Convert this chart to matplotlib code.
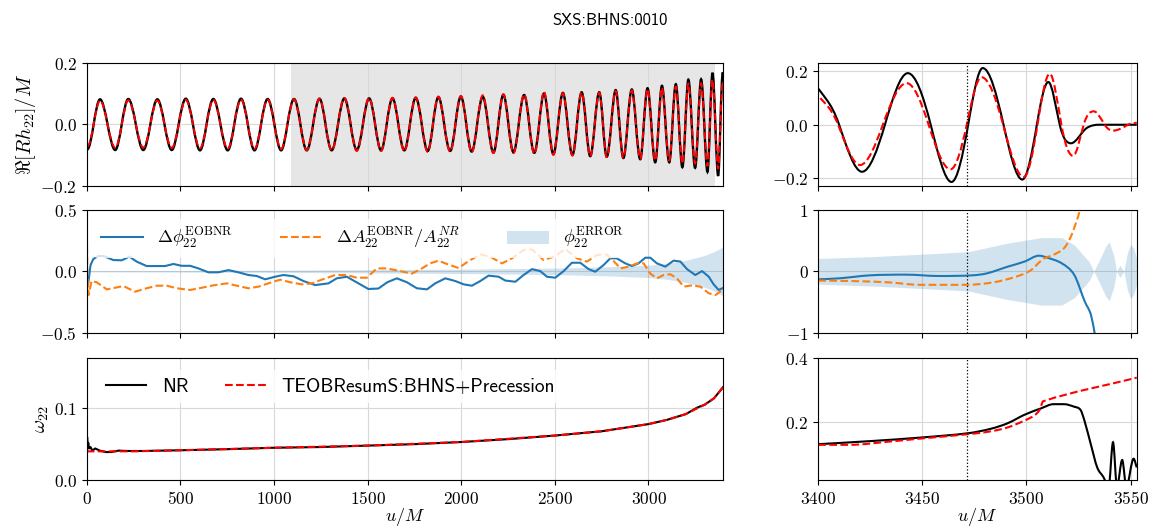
import numpy as np
import matplotlib
matplotlib.use('Agg')
import matplotlib.pyplot as plt
from matplotlib.path import Path
from matplotlib.patches import PathPatch

plt.rcParams['mathtext.fontset'] = 'cm'
plt.rcParams['axes.formatter.use_mathtext'] = True

# ---- top-left: Re[R h22]/M, extrema and zero crossings ----
ext_t = [3, 71, 152, 222, 302, 377, 454, 529, 605, 676, 753, 824, 896, 966, 1038, 1107,
         1175, 1243, 1308, 1376, 1442, 1508, 1572, 1633, 1696, 1757, 1821, 1878, 1941, 1998,
         2056, 2115, 2172, 2225, 2279, 2336, 2390, 2442, 2492, 2543, 2594, 2643, 2689, 2737,
         2777, 2825, 2866, 2911, 2956, 2995, 3036, 3072, 3111, 3146, 3181, 3213, 3249, 3281,
         3315, 3342, 3372, 3397]
zero_t = [37, 111, 187, 262, 340, 415, 491, 567, 640, 714, 788, 860, 931, 1002, 1072, 1141,
          1209, 1275, 1342, 1409, 1475, 1540, 1602, 1664, 1726, 1789, 1849, 1909, 1969, 2027,
          2085, 2143, 2198, 2252, 2307, 2363, 2416, 2467, 2517, 2568, 2618, 2666, 2713, 2757,
          2801, 2845, 2888, 2933, 2975, 3015, 3054, 3091, 3128, 3163, 3197, 3231, 3265, 3298,
          3328, 3357, 3384]
ext_nr = [-0.082, 0.081, -0.084, 0.082, -0.084, 0.081, -0.084, 0.083, -0.085, 0.082, -0.085,
          0.083, -0.085, 0.082, -0.085, 0.082, -0.085, 0.083, -0.085, 0.084, -0.084, 0.084,
          -0.085, 0.084, -0.085, 0.086, -0.087, 0.088, -0.087, 0.090, -0.089, 0.089, -0.092,
          0.096, -0.091, 0.095, -0.093, 0.100, -0.097, 0.102, -0.100, 0.104, -0.104, 0.104,
          -0.106, 0.111, -0.110, 0.113, -0.114, 0.117, -0.124, 0.125, -0.124, 0.130, -0.140,
          0.145, -0.142, 0.146, -0.155, 0.167, -0.168, 0.168]
ext_eob = [-0.072, 0.077, -0.076, 0.078, -0.076, 0.077, -0.077, 0.079, -0.078, 0.079, -0.079,
           0.080, -0.080, 0.080, -0.081, 0.081, -0.084, 0.083, -0.085, 0.085, -0.087, 0.085,
           -0.087, 0.086, -0.088, 0.087, -0.090, 0.090, -0.089, 0.092, -0.091, 0.094, -0.094,
           0.097, -0.094, 0.097, -0.096, 0.106, -0.100, 0.101, -0.102, 0.103, -0.104, 0.103,
           -0.107, 0.108, -0.109, 0.110, -0.112, 0.114, -0.118, 0.119, -0.118, 0.122, -0.128,
           0.132, -0.128, 0.133, -0.136, 0.145, -0.145, 0.140]
h_start = [-0.078, -0.070]   # NR, EOB at u=0
h_end = [0.155, 0.125]       # NR, EOB at u=3400
shade_u = [1091, 3356]

# ---- top-right: merger zoom (extrema and zero crossings) ----
hr_nr_u = [3398, 3410, 3421, 3432, 3443, 3454, 3464, 3472, 3479, 3489, 3498, 3505, 3510.5,
           3516, 3521.4, 3529, 3535, 3553]
hr_nr = [0.158, 0.0, -0.175, 0.0, 0.192, 0.0, -0.213, 0.0, 0.211, 0.0, -0.204, 0.0, 0.159,
         0.0, -0.069, -0.012, 0.0, 0.0]
hr_eob_u = [3397.5, 3409.5, 3420, 3431, 3442.4, 3453, 3463.5, 3471.3, 3478.4, 3488.8, 3498.7,
            3505.3, 3511.2, 3516.8, 3522.4, 3527.5, 3532.3, 3537.6, 3541.6, 3548.8, 3553]
hr_eob = [0.130, 0.0, -0.150, 0.0, 0.155, 0.0, -0.166, 0.0, 0.177, 0.0, -0.195, 0.0, 0.190,
          0.0, -0.116, 0.0, 0.050, 0.0, -0.022, 0.0, 0.008]

# ---- middle-left: phase / amplitude differences ----
phi_u = [0, 8, 20, 35, 62, 89, 142, 187, 228, 267, 320, 374, 418, 463, 507, 552, 596, 650,
         703, 757, 810, 863, 908, 953, 1006, 1050, 1104, 1157, 1220, 1291, 1335, 1389, 1451,
         1504, 1558, 1605, 1656, 1710, 1763, 1817, 1861, 1915, 1968, 2013, 2057, 2102, 2146,
         2200, 2235, 2289, 2333, 2378, 2422, 2458, 2502, 2547, 2591, 2636, 2680, 2716, 2760,
         2796, 2831, 2876, 2912, 2947, 2983, 3010, 3045, 3090, 3134, 3170, 3206, 3250, 3286,
         3322, 3348, 3375, 3400]
phi_v = [-0.15, -0.10, 0.05, 0.10, 0.125, 0.125, 0.092, 0.09, 0.12, 0.079, 0.043, 0.043, 0.043,
         0.06, 0.045, 0.045, 0.024, -0.008, -0.008, 0.01, -0.008, -0.03, -0.038, -0.065, -0.044,
         -0.03, -0.04, -0.079, -0.112, -0.098, -0.057, -0.044, -0.098, -0.144, -0.14, -0.089,
         -0.057, -0.089, -0.138, -0.147, -0.098, -0.057, -0.079, -0.106, -0.117, -0.079, -0.035,
         -0.044, -0.075, -0.085, -0.03, 0.018, 0.002, -0.044, -0.052, 0.002, 0.07, 0.07, 0.018,
         -0.003, 0.051, 0.106, 0.106, 0.065, 0.043, 0.065, 0.111, 0.111, 0.065, 0.038, 0.087,
         0.08, 0.018, -0.03, 0.002, -0.044, -0.106, -0.152, -0.134]
amp_u = [0, 3, 10, 26, 53, 107, 151, 196, 258, 320, 374, 427, 481, 552, 614, 677, 748, 801, 863,
         917, 988, 1033, 1086, 1148, 1202, 1255, 1327, 1389, 1442, 1496, 1549, 1602, 1665, 1736,
         1790, 1834, 1879, 1923, 1986, 2040, 2102, 2155, 2218, 2271, 2333, 2378, 2440, 2494,
         2556, 2618, 2671, 2725, 2778, 2814, 2850, 2894, 2939, 2974, 3010, 3045, 3081, 3117,
         3152, 3188, 3233, 3277, 3322, 3358, 3400]
amp_v = [0.39, 0.0, -0.193, -0.079, -0.089, -0.147, -0.134, -0.12, -0.166, -0.138, -0.117,
         -0.117, -0.138, -0.152, -0.134, -0.114, -0.098, -0.117, -0.138, -0.125, -0.089, -0.068,
         -0.089, -0.106, -0.098, -0.068, -0.03, -0.03, -0.052, -0.052, 0.024, 0.024, 0.005,
         -0.019, 0.024, 0.065, 0.087, 0.06, 0.027, 0.084, 0.138, 0.119, 0.065, 0.106, 0.174,
         0.179, 0.092, 0.119, 0.182, 0.106, 0.079, 0.133, 0.138, 0.084, 0.024, 0.038, 0.065,
         0.065, -0.019, -0.057, -0.03, -0.024, -0.057, -0.125, -0.114, -0.125, -0.179, -0.193,
         -0.147]
err_u = [0, 500, 1000, 1500, 2000, 2500, 2800, 3000, 3100, 3200, 3300, 3350, 3400]
err_v = [0.004, 0.006, 0.009, 0.013, 0.018, 0.026, 0.038, 0.05, 0.065, 0.09, 0.13, 0.16, 0.2]

# ---- middle-right ----
phir_u = [3400, 3410, 3425, 3442, 3458, 3474, 3481, 3491, 3499, 3506, 3510, 3517, 3523, 3528,
          3531, 3533]
phir_v = [-0.13, -0.114, -0.065, -0.054, -0.076, -0.065, -0.033, 0.076, 0.158, 0.255, 0.223,
          0.13, -0.06, -0.49, -0.71, -1.05]
ampr_u = [3400, 3418, 3434, 3449, 3471, 3484, 3495, 3502, 3508, 3513, 3518, 3521, 3524, 3525.7,
          3527]
ampr_v = [-0.15, -0.16, -0.18, -0.22, -0.22, -0.18, -0.087, 0.016, 0.2, 0.27, 0.375, 0.54, 0.81,
          1.0, 1.2]
errr_u = [3400, 3426, 3450, 3472, 3491, 3507, 3517, 3523, 3530, 3532.4, 3536, 3538, 3539.8,
          3542, 3543.3, 3544.9, 3546.8, 3548.5, 3550, 3551.5, 3553]
errr_v = [0.21, 0.24, 0.28, 0.32, 0.46, 0.55, 0.55, 0.43, 0.16, 0.0, 0.25, 0.40, 0.48, 0.25, 0.0,
          0.10, 0.0, 0.30, 0.44, 0.38, 0.20]

# ---- bottom: omega22 ----
om_nr_u = [0, 2, 5, 8, 12, 20, 30, 45, 70, 100, 130, 170, 220, 300, 500, 750, 1000, 1250, 1500,
           1750, 2000, 2250, 2500, 2750, 2900, 3000, 3100, 3200, 3260, 3300, 3350, 3400]
om_nr = [0.000, 0.060, 0.045, 0.052, 0.044, 0.046, 0.041, 0.044, 0.041, 0.039, 0.039, 0.041,
         0.0405, 0.0405, 0.0415, 0.043, 0.045, 0.046, 0.048, 0.050, 0.053, 0.057, 0.062, 0.068,
         0.074, 0.078, 0.084, 0.092, 0.101, 0.105, 0.114, 0.130]
om_eob_u = [0, 250, 500, 1000, 1500, 2000, 2500, 2750, 3000, 3100, 3200, 3260, 3300, 3350, 3400]
om_eob = [0.040, 0.040, 0.0415, 0.045, 0.048, 0.053, 0.062, 0.068, 0.078, 0.084, 0.092, 0.100,
          0.105, 0.114, 0.130]
omr_nr_u = [3400, 3426, 3450, 3472, 3483, 3491, 3499, 3507, 3513, 3518, 3523, 3526, 3528, 3531,
            3534, 3537, 3539.5, 3541.6, 3543.5, 3546, 3548, 3551.5, 3553]
omr_nr = [0.132, 0.142, 0.153, 0.166, 0.18, 0.197, 0.223, 0.243, 0.256, 0.256, 0.248, 0.238,
          0.202, 0.13, 0.06, 0.03, 0.0, 0.138, 0.0, 0.083, 0.0, 0.087, 0.06]
omr_eob_u = [3400, 3415, 3434, 3450, 3472, 3483, 3491, 3499, 3504, 3506.5, 3508, 3553]
omr_eob = [0.130, 0.130, 0.140, 0.150, 0.163, 0.172, 0.184, 0.205, 0.222, 0.240, 0.265, 0.338]

t_merger = 3471.5


def smooth(ax, t, v, **kw):
    # draw a smooth bezier curve through the read points (flat at extrema)
    t = np.asarray(t, float)
    v = np.asarray(v, float)
    n = len(t)
    m = np.zeros(n)
    for i in range(n):
        if i == 0:
            m[i] = (v[1] - v[0]) / (t[1] - t[0])
        elif i == n - 1:
            m[i] = (v[-1] - v[-2]) / (t[-1] - t[-2])
        elif (v[i] - v[i - 1]) * (v[i + 1] - v[i]) <= 0:
            m[i] = 0.0
        else:
            k = np.pi / 2 if (v[i] == 0 and v[i - 1] * v[i + 1] < 0) else 1.0
            m[i] = k * (v[i + 1] - v[i - 1]) / (t[i + 1] - t[i - 1])
    verts = [(t[0], v[0])]
    codes = [Path.MOVETO]
    for i in range(n - 1):
        d = (t[i + 1] - t[i]) / 3
        verts += [(t[i] + d, v[i] + m[i] * d), (t[i + 1] - d, v[i + 1] - m[i + 1] * d),
                  (t[i + 1], v[i + 1])]
        codes += [Path.CURVE4] * 3
    ax.add_patch(PathPatch(Path(verts, codes), fill=False, **kw))


def wave(i_val, ext_v):
    t = np.concatenate([[0], ext_t, zero_t, [3400]])
    v = np.concatenate([[h_start[i_val]], ext_v, np.zeros(len(zero_t)), [h_end[i_val]]])
    o = np.argsort(t)
    return t[o], v[o]


fig = plt.figure(figsize=(11.55, 5.3), dpi=100)
L, LW = 0.0751, 0.5512
R, RW = 0.7085, 0.2757
rows = [(0.6496, 0.2321), (0.3723, 0.2315), (0.0943, 0.2308)]
axl = [fig.add_axes([L, b, LW, h]) for b, h in rows]
axr = [fig.add_axes([R, b, RW, h]) for b, h in rows]

C0, C1 = '#1f77b4', '#ff7f0e'

# top
axl[0].axvspan(*shade_u, color='0.9', lw=0, zorder=0)
t, v = wave(0, ext_nr)
smooth(axl[0], t, v, edgecolor='k', lw=1.7)
t, v = wave(1, ext_eob)
smooth(axl[0], t, v, edgecolor='r', ls='--', lw=1.4)
axl[0].set_ylim(-0.2, 0.2)
axl[0].set_yticks([-0.2, 0.0, 0.2], [r'$-0.2$', r'$0.0$', r'$0.2$'])
axl[0].set_ylabel(r'$\Re[Rh_{22}]/M$', fontsize=14.5, labelpad=2)

smooth(axr[0], hr_nr_u, hr_nr, edgecolor='k', lw=1.5)
smooth(axr[0], hr_eob_u, hr_eob, edgecolor='r', ls='--', lw=1.5)
axr[0].set_ylim(-0.227, 0.231)
axr[0].set_yticks([-0.2, 0.0, 0.2], [r'$-0.2$', r'$0.0$', r'$0.2$'])

# middle
axl[1].fill_between(err_u, -np.array(err_v), err_v, color=C0, alpha=0.2, lw=0,
                    label=r'$\phi_{22}^{\mathrm{ERROR}}$')
axl[1].plot(phi_u, phi_v, color=C0, lw=1.5, label=r'$\Delta\phi_{22}^{\mathrm{EOBNR}}$')
axl[1].plot(amp_u, amp_v, color=C1, ls='--', lw=1.5,
            label=r'$\Delta A_{22}^{\mathrm{EOBNR}}/A_{22}^{NR}$')
axl[1].set_ylim(-0.5, 0.5)
axl[1].set_yticks([-0.5, 0.0, 0.5], [r'$-0.5$', r'$0.0$', r'$0.5$'])
h, lab = axl[1].get_legend_handles_labels()
axl[1].legend([h[1], h[2], h[0]], [lab[1], lab[2], lab[0]], ncol=3, loc='upper left',
              fontsize=13, handlelength=2.3, columnspacing=2.6, borderaxespad=0.2,
              frameon=True, framealpha=0.8, edgecolor='none', bbox_to_anchor=(0.006, 0.96))

axr[1].fill_between(errr_u, -np.array(errr_v), errr_v, color=C0, alpha=0.2, lw=0)
smooth(axr[1], phir_u, phir_v, edgecolor=C0, lw=1.5)
smooth(axr[1], ampr_u, ampr_v, edgecolor=C1, ls='--', lw=1.5)
axr[1].set_ylim(-1, 1)
axr[1].set_yticks([-1, 0, 1], [r'$-1$', r'$0$', r'$1$'])

# bottom
axl[2].plot(om_nr_u, om_nr, color='k', lw=1.5, label='NR')
axl[2].plot(om_eob_u, om_eob, color='r', ls='--', lw=1.5, label='TEOBResumS:BHNS+Precession')
axl[2].set_ylim(0, 0.1706)
axl[2].set_yticks([0.0, 0.1], [r'$0.0$', r'$0.1$'])
axl[2].set_ylabel(r'$\omega_{22}$', fontsize=14.5, labelpad=2)
axl[2].legend(ncol=2, loc='upper left', prop={'family': 'cmss10', 'size': 14},
              handlelength=2.1, columnspacing=1.9, frameon=True, framealpha=0.8,
              edgecolor='none', bbox_to_anchor=(0.002, 0.98))

smooth(axr[2], omr_nr_u, omr_nr, edgecolor='k', lw=1.5)
smooth(axr[2], omr_eob_u, omr_eob, edgecolor='r', ls='--', lw=1.5)
axr[2].set_ylim(0.021, 0.4)
axr[2].set_yticks([0.2, 0.4], [r'$0.2$', r'$0.4$'])

for a in axl:
    a.set_xlim(0, 3400)
    a.set_xticks(range(0, 3001, 500))
for a in axr:
    a.set_xlim(3400, 3553)
    a.set_xticks([3400, 3450, 3500, 3550])
    a.axvline(t_merger, color='k', ls=':', lw=0.9)

for a in axl + axr:
    a.grid(True, color='#d8d8d8', lw=0.8)
    a.set_axisbelow(True)
    a.tick_params(labelsize=12.5)
for a in axl[:2] + axr[:2]:
    a.tick_params(labelbottom=False)
axl[2].set_xticklabels([r'$%d$' % x for x in range(0, 3001, 500)])
axr[2].set_xticklabels([r'$%d$' % x for x in [3400, 3450, 3500, 3550]])
axl[2].set_xlabel(r'$u/M$', fontsize=13, labelpad=-1)
axr[2].set_xlabel(r'$u/M$', fontsize=13, labelpad=-1)

fig.text(0.528, 0.962, 'SXS:BHNS:0010', family='cmss10', fontsize=12, ha='center',
         va='center')

fig.savefig('out.png', dpi=100)
